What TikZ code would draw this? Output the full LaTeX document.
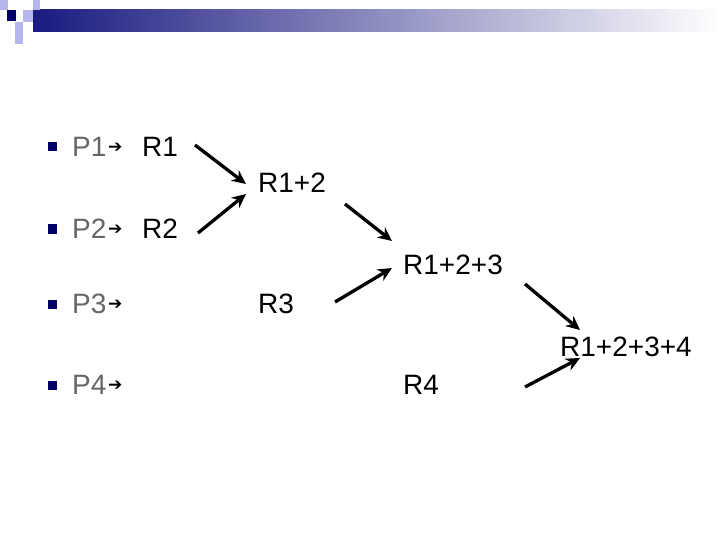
\documentclass[tikz,border=0pt]{standalone}
\usepackage{fontspec}
\setmainfont{Liberation Sans}
\newfontfamily\symf{DejaVu Sans}
\usetikzlibrary{arrows.meta}
\begin{document}
\begin{tikzpicture}[x=1pt,y=-1pt,
 lab/.style={anchor=west,inner sep=0pt,font=\fontsize{28}{28}\selectfont},
 pl/.style={lab,text=black!60},
 bul/.style={fill=blue!40!black,minimum size=9pt,inner sep=0pt},
 sq/.style={fill=blue!25!white!85!gray,draw=none},
 arr/.style={line width=3.3pt,-{Stealth[length=14pt,width=13pt]}}]
\useasboundingbox (0,0) rectangle (720,540);
\fill[left color={rgb,255:red,26;green,26;blue,128},right color=white] (33,10) rectangle (720,32);
\fill[sq] (0,0) rectangle (8,10);
\fill[sq] (33,0) rectangle (40,10);
\fill[sq] (23,10) rectangle (33,22);
\fill[sq] (15,22) rectangle (23,32);
\fill[sq] (15,32) rectangle (23,44);
\fill[blue!40!black] (7,10) rectangle (16,21);
\foreach \y/\n in {147/1,229/2,304/3,385/4}{
 \node[bul] (b\n) at (52,\y) {};
 \node[pl] (p\n) at (72,\y) {P\n};
 \node[lab,font=\symf\fontsize{17}{17}\selectfont] (a\n) at (108,\y+1) {➔};
}
\node[lab] (r1) at (142,147) {R1};
\node[lab] (r2) at (142,229) {R2};
\node[lab] (r12) at (258,183) {R1+2};
\node[lab] (r3) at (258,304) {R3};
\node[lab] (r123) at (403,265) {R1+2+3};
\node[lab] (r4) at (403,385) {R4};
\node[lab] (r1234) at (560,347) {R1+2+3+4};
\coordinate (s1) at (195,145); \coordinate (e1) at (246,184);
\coordinate (s2) at (198,233); \coordinate (e2) at (246,194);
\coordinate (s3) at (345,204); \coordinate (e3) at (392,241);
\coordinate (s4) at (335,302); \coordinate (e4) at (392,268);
\coordinate (s5) at (525,284); \coordinate (e5) at (580,330);
\coordinate (s6) at (525,387); \coordinate (e6) at (580,358);
\foreach \i in {1,...,6} \draw[arr] (s\i) -- (e\i);
\end{tikzpicture}
\end{document}
